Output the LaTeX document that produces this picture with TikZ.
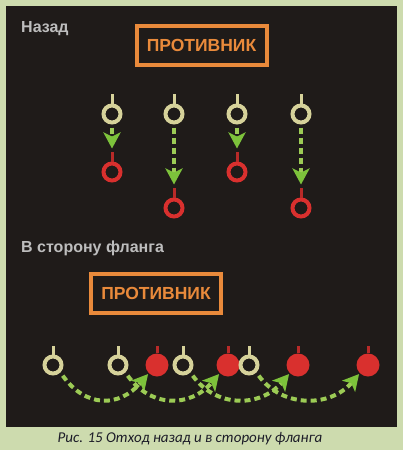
\documentclass[tikz,border=0pt]{standalone}
\usepackage{fontspec}
\setmainfont{Liberation Sans}
\newfontfamily\capfont{Carlito}
\usetikzlibrary{arrows.meta}
\definecolor{bgpale}{HTML}{CDDBAE}
\definecolor{board}{HTML}{1F1B19}
\definecolor{greytext}{HTML}{BDBDBD}
\definecolor{foeorange}{HTML}{E98A3B}
\definecolor{ownyellow}{HTML}{D6D29A}
\definecolor{foered}{HTML}{D9302E}
\definecolor{stickred}{HTML}{B82A28}
\definecolor{movegreen}{HTML}{9CCB55}
\definecolor{headgreen}{HTML}{7DC23B}
\definecolor{captext}{HTML}{1C1C28}
\begin{document}
\begin{tikzpicture}[x=1pt, y=-1pt]
        \tikzstyle{own} = [circle, draw=ownyellow, line width=4pt, minimum size=17pt, inner sep=0pt]
        \tikzstyle{foe} = [circle, draw=foered, line width=4pt, minimum size=17pt, inner sep=0pt]
        \tikzstyle{foedot} = [circle, fill=foered, minimum size=23pt, inner sep=0pt]
        \tikzstyle{ownstick} = [draw=ownyellow, line width=3pt]
        \tikzstyle{foestick} = [draw=stickred, line width=3pt]
        \tikzstyle{enemybox} = [draw=foeorange, line width=4pt, text=foeorange, font=\bfseries\fontsize{17.5}{17.5}\selectfont, minimum width=130pt, minimum height=39pt, inner sep=0pt]
        \tikzstyle{heading} = [text=greytext, font=\bfseries\fontsize{16}{16}\selectfont, inner sep=0pt]
        \tikzstyle{move} = [draw=movegreen, line width=4pt, dash pattern=on 6pt off 4pt, shorten <=3pt, shorten >=3pt, -{Stealth[length=16pt, width=17pt, inset=4pt, color=headgreen]}]

    \useasboundingbox (0,0) rectangle (403,450);
    \fill[bgpale] (0,0) rectangle (403,450);
    \fill[board] (6,6) rectangle (397,427);

    % Назад
    \node[heading, anchor=base west] (backtitle) at (21,32) {Назад};
    \node[enemybox] (enemytop) at (201.5,45.5) {ПРОТИВНИК};

    \foreach \i/\x/\y in {1/112/172, 2/174/208, 3/237/172, 4/301/208} {
        \node[own] (y\i) at (\x,114) {};
        \draw[ownstick] (y\i.north) -- ++(0,-10);
        \node[foe] (r\i) at (\x,\y) {};
        \draw[foestick] (r\i.north) -- ++(0,-10) coordinate (r\i top);
        \draw[move] (y\i.south) -- (r\i top);
    }

    % В сторону фланга
    \node[heading, anchor=base west] (flanktitle) at (21,252) {В сторону фланга};
    \node[enemybox] (enemyflank) at (156,293) {ПРОТИВНИК};

    \foreach \i/\x/\z in {1/53/157, 2/118/228, 3/183/298, 4/249/368} {
        \node[own] (b\i) at (\x,365) {};
        \draw[ownstick] (b\i.north) -- ++(0,-9);
        \node[foedot] (f\i) at (\z,365) {};
        \draw[foestick] (f\i.north) -- ++(0,-7);
    }
    \foreach \i in {1,...,4}
        \draw[move, shorten <=4pt, shorten >=1pt] (b\i.south east) .. controls +(25,35) and +(-30,35) .. (f\i.south west);

    \node[text=captext, font=\capfont\itshape\fontsize{15}{15}\selectfont, inner sep=0pt] (caption) at (190,439) {Рис. 15 Отход назад и в сторону фланга};
\end{tikzpicture}
\end{document}
